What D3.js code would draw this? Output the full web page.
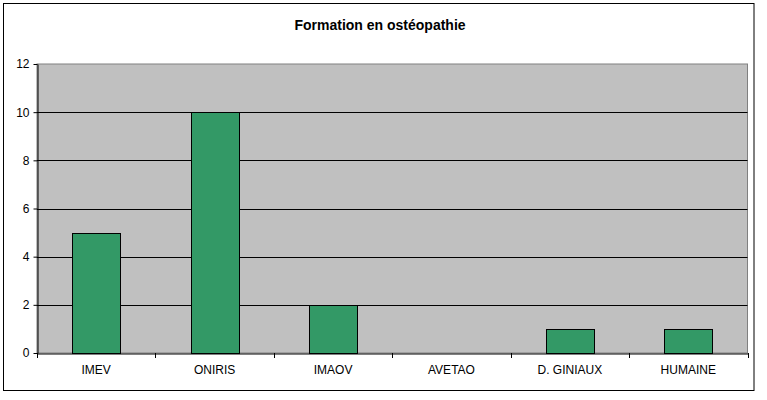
<!DOCTYPE html>
<html><head><meta charset="utf-8">
<script src="https://cdn.jsdelivr.net/npm/d3@7"></script>
<style>body{margin:0;background:#fff}svg{display:block}text{font-family:"Liberation Sans",Arial,sans-serif}</style>
</head><body><svg id="c" width="767" height="400"></svg>
<script>
const categories = ["IMEV","ONIRIS","IMAOV","AVETAO","D. GINIAUX","HUMAINE"];
const values = [5,10,2,0,1,1];
const yTicks = [0,2,4,6,8,10,12];
const title = "Formation en ostéopathie";

const svg = d3.select("#c");
const L=37, R=747.5, T=64, B=353;
svg.append("rect").attr("x",3.5).attr("y",3.5).attr("width",750.5).attr("height",387).attr("fill","#fff").attr("stroke","#000").attr("stroke-width",1);
svg.append("text").attr("x",380).attr("y",30).attr("text-anchor","middle").attr("font-size","14px").attr("font-weight","bold").text(title);

const x = d3.scaleBand().domain(categories).range([L,R]).paddingInner(0.595).paddingOuter(0.2975);
const xb = d3.scaleBand().domain(categories).range([L,R]);
const y = d3.scaleLinear().domain([0,12]).range([B,T]);

svg.append("rect").attr("x",L).attr("y",T).attr("width",R-L).attr("height",B-T).attr("fill","#c0c0c0").attr("stroke","#808080").attr("stroke-width",1);

svg.append("g").selectAll("line").data(yTicks.filter(d=>d>0&&d<12)).join("line")
  .attr("x1",L).attr("x2",R).attr("y1",d=>Math.round(y(d))+0.5).attr("y2",d=>Math.round(y(d))+0.5).attr("stroke","#000");

svg.append("g").selectAll("rect").data(values).join("rect")
  .attr("x",(d,i)=>Math.round(x(categories[i]))+0.5).attr("width",Math.round(x.bandwidth()))
  .attr("y",d=>Math.round(y(d))+0.5).attr("height",d=>Math.round(y(0))-Math.round(y(d)))
  .attr("fill","#339966").attr("stroke","#000").attr("stroke-width",1)
  .attr("display",d=>d>0?null:"none");

const ya = svg.append("g").attr("transform",`translate(${L+0.5},0)`).call(d3.axisLeft(y).tickValues(yTicks).tickSize(4).tickPadding(4).tickSizeOuter(0));
ya.select(".domain").attr("stroke","#000");
ya.selectAll("text").attr("font-size","12px").attr("fill","#000").attr("font-family","Liberation Sans, Arial, sans-serif");

const xa = svg.append("g").attr("transform",`translate(0,${B+0.5})`).call(d3.axisBottom(xb).tickSize(0).tickPadding(12).tickSizeOuter(0));
xa.select(".domain").attr("stroke","#000");
xa.selectAll("text").attr("font-size","12px").attr("fill","#000").attr("font-family","Liberation Sans, Arial, sans-serif");
svg.append("g").selectAll("line").data(d3.range(categories.length+1)).join("line")
  .attr("x1",i=>Math.round(L+i*xb.bandwidth())+0.5).attr("x2",i=>Math.round(L+i*xb.bandwidth())+0.5)
  .attr("y1",B).attr("y2",B+5).attr("stroke","#000");
</script></body></html>
